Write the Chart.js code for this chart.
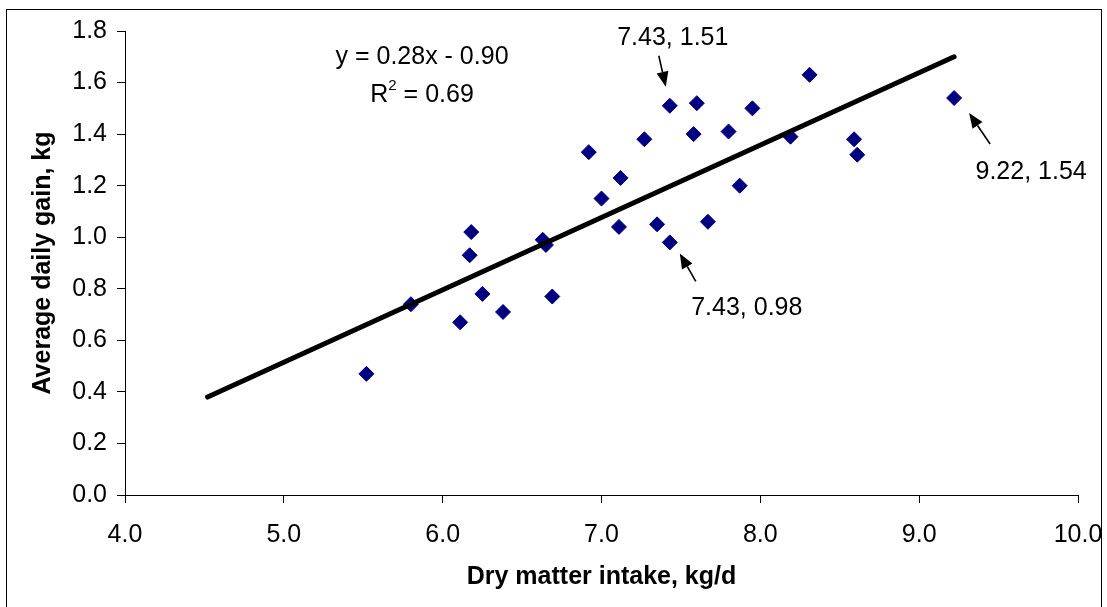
<!DOCTYPE html>
<html>
<head>
<meta charset="utf-8">
<script src="https://cdn.jsdelivr.net/npm/chart.js@4"></script>
<style>
  body { margin: 0; background: #fff; }
  #wrap { position: relative; width: 1107px; height: 607px; overflow: hidden; }
  #frame { position: absolute; left: 6px; top: 9px; width: 1094px; height: 640px; border: 1px solid #000; }
  canvas { position: absolute; left: 0; top: 0; }
</style>
</head>
<body>
<div id="wrap">
  <div id="frame"></div>
  <canvas id="adgChart" width="1107" height="607"></canvas>
</div>
<script>
// Dry matter intake (kg/d) vs average daily gain (kg)
const dmi = [5.52, 5.80, 6.11, 6.17, 6.18, 6.25, 6.38, 6.63, 6.65, 6.69,
             6.92, 7.00, 7.11, 7.12, 7.27, 7.35, 7.43, 7.43, 7.58, 7.60,
             7.67, 7.80, 7.87, 7.95, 8.19, 8.31, 8.59, 8.61, 9.22];
const adg = [0.47, 0.74, 0.67, 0.93, 1.02, 0.78, 0.71, 0.99, 0.97, 0.77,
             1.33, 1.15, 1.04, 1.23, 1.38, 1.05, 1.51, 0.98, 1.40, 1.52,
             1.06, 1.41, 1.20, 1.50, 1.39, 1.63, 1.38, 1.32, 1.54];

// linear trend line end points
const trendX = [4.52, 9.22];
const trendY = [0.38, 1.70];

const xTicks = [4, 5, 6, 7, 8, 9, 10];
const yTicks = [0, 0.2, 0.4, 0.6, 0.8, 1.0, 1.2, 1.4, 1.6, 1.8];

const equationText = 'y = 0.28x - 0.90';
const r2Text = '0.69';
const equationPos = [5.87, 1.70];

// labelled points: index, label offset, arrow tail offset, arrow tip offset (px)
const callouts = [
    { i: 16, label: [3, -68], tail: [-11, -50], tip: [-4, -19] },
    { i: 17, label: [77, 66], tail: [26, 39], tip: [10, 11] },
    { i: 28, label: [77, 74], tail: [36, 46], tip: [15, 15] }
];

const FONT = 'Arial, "Liberation Sans", sans-serif';
const FS = 25;

function arrow(ctx, x1, y1, x2, y2) {
    const ang = Math.atan2(y2 - y1, x2 - x1);
    const len = 15, half = 6;
    ctx.beginPath();
    ctx.moveTo(x1, y1);
    ctx.lineTo(x2 - Math.cos(ang) * len, y2 - Math.sin(ang) * len);
    ctx.lineWidth = 1.6;
    ctx.strokeStyle = '#000';
    ctx.stroke();
    ctx.beginPath();
    ctx.moveTo(x2, y2);
    ctx.lineTo(x2 - Math.cos(ang) * len - Math.sin(ang) * half, y2 - Math.sin(ang) * len + Math.cos(ang) * half);
    ctx.lineTo(x2 - Math.cos(ang) * len + Math.sin(ang) * half, y2 - Math.sin(ang) * len - Math.cos(ang) * half);
    ctx.closePath();
    ctx.fillStyle = '#000';
    ctx.fill();
}

const notes = {
    id: 'notes',
    afterDatasetsDraw(chart) {
        const ctx = chart.ctx;
        const xs = chart.scales.x, ys = chart.scales.y;
        ctx.save();
        ctx.fillStyle = '#000';
        ctx.textAlign = 'center';
        ctx.textBaseline = 'middle';
        ctx.font = FS + 'px ' + FONT;

        // equation
        const ex = xs.getPixelForValue(equationPos[0]);
        const ey = ys.getPixelForValue(equationPos[1]);
        ctx.fillText(equationText, ex, ey);
        const rest = ' = ' + r2Text;
        const wR = ctx.measureText('R').width;
        const wRest = ctx.measureText(rest).width;
        ctx.font = '15px ' + FONT;
        const wSup = ctx.measureText('2').width;
        const total = wR + wSup + wRest;
        const sx = ex - total / 2;
        const ry = ey + 38;
        ctx.textAlign = 'left';
        ctx.font = FS + 'px ' + FONT;
        ctx.fillText('R', sx, ry);
        ctx.font = '15px ' + FONT;
        ctx.fillText('2', sx + wR, ry - 9);
        ctx.font = FS + 'px ' + FONT;
        ctx.fillText(rest, sx + wR + wSup, ry);

        // point callouts
        ctx.textAlign = 'center';
        callouts.forEach(c => {
            const px = xs.getPixelForValue(dmi[c.i]);
            const py = ys.getPixelForValue(adg[c.i]);
            ctx.fillText(dmi[c.i].toFixed(2) + ', ' + adg[c.i].toFixed(2), px + c.label[0], py + c.label[1]);
            arrow(ctx, px + c.tail[0], py + c.tail[1], px + c.tip[0], py + c.tip[1]);
        });
        ctx.restore();
    }
};

const ctx = document.getElementById('adgChart').getContext('2d');
new Chart(ctx, {
    type: 'scatter',
    data: {
        datasets: [{
            label: 'ADG',
            data: dmi.map((x, k) => ({ x: x, y: adg[k] })),
            pointStyle: 'rectRot',
            pointRadius: 7.5,
            pointBackgroundColor: '#000080',
            pointBorderColor: '#000080',
            pointBorderWidth: 1,
            order: 2
        }, {
            label: 'Trend',
            type: 'line',
            data: trendX.map((x, k) => ({ x: x, y: trendY[k] })),
            borderColor: '#000',
            borderWidth: 5,
            borderCapStyle: 'round',
            pointRadius: 0,
            order: 1
        }]
    },
    options: {
        responsive: false,
        animation: false,
        layout: { padding: { top: 31, right: 29, left: 0, bottom: 0 } },
        plugins: { legend: { display: false }, tooltip: { enabled: false } },
        scales: {
            x: {
                type: 'linear',
                min: 4, max: 10,
                afterFit: s => { s.height = 112; s.paddingLeft = 0; s.paddingRight = 0; },
                afterBuildTicks: s => { s.ticks = xTicks.map(v => ({ value: v })); },
                ticks: {
                    callback: v => v.toFixed(1),
                    color: '#000',
                    font: { family: FONT, size: FS },
                    padding: 17,
                    maxRotation: 0
                },
                grid: { display: true, drawOnChartArea: false, drawTicks: true, tickLength: 8, color: '#000' },
                border: { display: true, color: '#000', width: 1 },
                title: {
                    display: true,
                    text: 'Dry matter intake, kg/d',
                    color: '#000',
                    font: { family: FONT, size: FS, weight: 'bold' },
                    padding: { top: 0, bottom: 15 }
                }
            },
            y: {
                type: 'linear',
                min: 0, max: 1.8,
                afterFit: s => { s.width = 125; s.paddingTop = 0; s.paddingBottom = 0; },
                afterBuildTicks: s => { s.ticks = yTicks.map(v => ({ value: v })); },
                ticks: {
                    callback: v => v.toFixed(1),
                    color: '#000',
                    font: { family: FONT, size: FS },
                    padding: 10
                },
                grid: { display: true, drawOnChartArea: false, drawTicks: true, tickLength: 8, color: '#000' },
                border: { display: true, color: '#000', width: 1 },
                title: {
                    display: true,
                    text: 'Average daily gain, kg',
                    color: '#000',
                    font: { family: FONT, size: FS, weight: 'bold' },
                    padding: { top: 28, bottom: 0 }
                }
            }
        }
    },
    plugins: [notes]
});
</script>
</body>
</html>
